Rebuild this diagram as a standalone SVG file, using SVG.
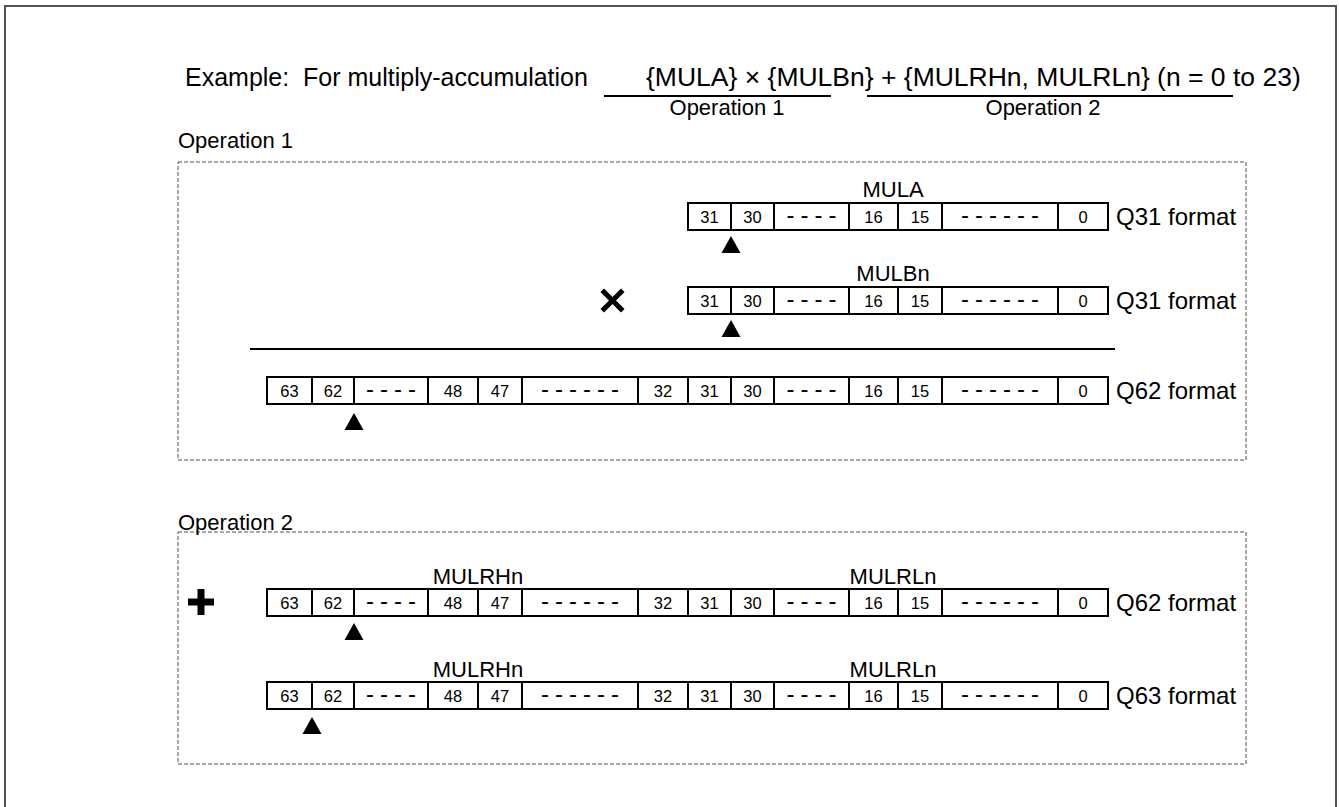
<svg xmlns="http://www.w3.org/2000/svg" xmlns:xlink="http://www.w3.org/1999/xlink" width="1339" height="807" viewBox="0 0 1339 807">
<style>
text{font-family:"Liberation Sans",Arial,sans-serif;fill:#000}
.title{font-size:25px}
.formula{font-size:26.5px}
.lbl{font-size:22px}
.fmt{font-size:24px}
.reg{font-size:22px;text-anchor:middle}
.d{font-size:16.5px;text-anchor:middle}
.dash{font-size:24px;text-anchor:middle;letter-spacing:6px}
.cell{fill:#fff;stroke:#000;stroke-width:2}
.div{stroke:#000;stroke-width:2}
.box{fill:none;stroke:#555;stroke-width:1;stroke-dasharray:4 2}
.rule{stroke:#000;stroke-width:2}
</style>
<defs>
<path id="tri" d="M0,0 L9.5,17 L-9.5,17 Z" fill="#000"/>
<g id="row32">
<rect class="cell" x="688" y="0" width="420" height="27"/>
<path class="div" d="M731,0V27M774,0V27M849,0V27M898,0V27M942,0V27M1058,0V27"/>
<text class="d" x="709.5" y="19.5">31</text>
<text class="d" x="752.5" y="19.5">30</text>
<text class="dash" x="814.5" y="20">----</text>
<text class="d" x="873.5" y="19.5">16</text>
<text class="d" x="920" y="19.5">15</text>
<text class="dash" x="1003" y="20">------</text>
<text class="d" x="1083" y="19.5">0</text>
</g>
<g id="row64">
<rect class="cell" x="267" y="0" width="841" height="27"/>
<path class="div" d="M312,0V27M354,0V27M428,0V27M478,0V27M522,0V27M638,0V27M688,0V27M731,0V27M774,0V27M849,0V27M898,0V27M942,0V27M1058,0V27"/>
<text class="d" x="289.5" y="19.5">63</text>
<text class="d" x="333" y="19.5">62</text>
<text class="dash" x="394" y="20">----</text>
<text class="d" x="453" y="19.5">48</text>
<text class="d" x="500" y="19.5">47</text>
<text class="dash" x="583" y="20">------</text>
<text class="d" x="663" y="19.5">32</text>
<text class="d" x="709.5" y="19.5">31</text>
<text class="d" x="752.5" y="19.5">30</text>
<text class="dash" x="814.5" y="20">----</text>
<text class="d" x="873.5" y="19.5">16</text>
<text class="d" x="920" y="19.5">15</text>
<text class="dash" x="1003" y="20">------</text>
<text class="d" x="1083" y="19.5">0</text>
</g>
</defs>
<rect x="0" y="0" width="1339" height="807" fill="#fff"/>
<rect x="5" y="6" width="1331" height="900" fill="none" stroke="#555" stroke-width="2"/>

<g id="title">
<text class="title" x="185" y="86" xml:space="preserve">Example:  For multiply-accumulation</text>
<text class="formula" x="646" y="86">{MULA} × {MULBn} + {MULRHn, MULRLn} (n = 0 to 23)</text>
<line class="rule" x1="604" y1="96" x2="831" y2="96"/>
<line class="rule" x1="867" y1="96" x2="1233" y2="96"/>
<text class="lbl" x="727" y="115" text-anchor="middle">Operation 1</text>
<text class="lbl" x="1043" y="115" text-anchor="middle">Operation 2</text>
</g>

<g id="operation1">
<text class="lbl" x="178" y="148">Operation 1</text>
<rect class="box" x="178" y="162" width="1068" height="298"/>
</g>

<g id="operation2">
<rect class="box" x="178" y="532" width="1068" height="232"/>
<text class="lbl" x="178" y="530">Operation 2</text>
</g>

<g id="mula">
<text class="reg" x="893" y="197">MULA</text>
<use xlink:href="#row32" transform="translate(0,203)"/>
<use xlink:href="#tri" x="731" y="236"/>
<text class="fmt" x="1116" y="225">Q31 format</text>
</g>

<g id="mulbn">
<text class="reg" x="893" y="281">MULBn</text>
<use xlink:href="#row32" transform="translate(0,287)"/>
<use xlink:href="#tri" x="731" y="320"/>
<text class="fmt" x="1116" y="309">Q31 format</text>
<path d="M604,292 L621,309 M621,292 L604,309" stroke="#000" stroke-width="5" stroke-linecap="square"/>
</g>

<g id="product">
<line class="rule" x1="250" y1="349" x2="1115" y2="349"/>
<use xlink:href="#row64" transform="translate(0,377)"/>
<use xlink:href="#tri" x="354" y="413"/>
<text class="fmt" x="1116" y="399">Q62 format</text>
</g>

<g id="mulr-q62">
<text class="reg" x="478" y="584">MULRHn</text>
<text class="reg" x="893" y="584">MULRLn</text>
<use xlink:href="#row64" transform="translate(0,589)"/>
<use xlink:href="#tri" x="354" y="623"/>
<text class="fmt" x="1116" y="611">Q62 format</text>
<path d="M188,602 H214 M201,589 V615" stroke="#000" stroke-width="7"/>
</g>

<g id="mulr-q63">
<text class="reg" x="478" y="677">MULRHn</text>
<text class="reg" x="893" y="677">MULRLn</text>
<use xlink:href="#row64" transform="translate(0,682)"/>
<use xlink:href="#tri" x="312" y="717"/>
<text class="fmt" x="1116" y="704">Q63 format</text>
</g>
</svg>
